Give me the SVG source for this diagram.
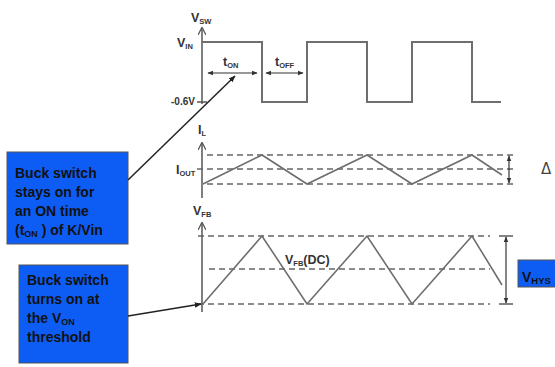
<svg xmlns="http://www.w3.org/2000/svg" width="555" height="367" viewBox="0 0 555 367">
<defs>
<marker id="ah" viewBox="0 0 10 10" refX="9" refY="5" markerWidth="7" markerHeight="7" orient="auto-start-reverse" markerUnits="userSpaceOnUse"><path d="M0,1 L10,5 L0,9 z" fill="#222"/></marker>
<marker id="ax" viewBox="0 0 10 10" refX="9" refY="5" markerWidth="8" markerHeight="8" orient="auto" markerUnits="userSpaceOnUse"><path d="M0,0 L10,5 L0,10" fill="none" stroke="#555" stroke-width="1.5"/></marker>
<marker id="sa" viewBox="0 0 10 10" refX="9" refY="5" markerWidth="6" markerHeight="6" orient="auto-start-reverse" markerUnits="userSpaceOnUse"><path d="M0,1 L10,5 L0,9 z" fill="#333"/></marker>
</defs>
<style>
.w{fill:none;stroke:#6e6e6e;stroke-width:2}
.ax{fill:none;stroke:#555;stroke-width:1.5}
.d{fill:none;stroke:#666;stroke-width:1.5;stroke-dasharray:6 4}
.t{font-family:"Liberation Sans",Arial,sans-serif;fill:#333;font-weight:bold}
.lab{font-size:12.5px}
.sub{font-size:7.5px}
.box{fill:#0d5df5;stroke:#555;stroke-width:1}
.bt{font-family:"Liberation Sans",Arial,sans-serif;font-weight:bold;font-size:14px;fill:#111}
.con{fill:none;stroke:#222;stroke-width:1.5}
.dim{fill:none;stroke:#333;stroke-width:1.2}
</style>

<g id="vsw-graph">
<line class="ax" x1="202" y1="104" x2="202" y2="28" marker-end="url(#ax)"/>
<line class="ax" x1="197" y1="102" x2="207" y2="102"/>
<polyline class="w" points="202,42 262,42 262,102 307,102 307,42 367,42 367,102 412,102 412,42 472,42 472,102 501,102"/>
<text class="t lab" x="191" y="22">V<tspan class="sub" dy="2">SW</tspan></text>
<text class="t lab" x="177" y="47">V<tspan class="sub" dy="2">IN</tspan></text>
<text class="t" font-size="10" x="171" y="105">-0.6V</text>
<line class="dim" x1="208" y1="73" x2="257" y2="73" marker-start="url(#sa)" marker-end="url(#sa)"/>
<line class="dim" x1="266" y1="73" x2="303" y2="73" marker-start="url(#sa)" marker-end="url(#sa)"/>
<text class="t lab" x="223" y="66">t<tspan class="sub" dy="2">ON</tspan></text>
<text class="t lab" x="275" y="66">t<tspan class="sub" dy="2">OFF</tspan></text>
</g>

<g id="il-graph">
<line class="ax" x1="202" y1="198" x2="202" y2="143" marker-end="url(#ax)"/>
<line class="d" x1="207" y1="155" x2="513" y2="155"/>
<line class="d" x1="197" y1="169" x2="513" y2="169"/>
<line class="d" x1="207" y1="184" x2="513" y2="184"/>
<polyline class="w" style="stroke-width:1.6" points="203,184 262,155 307,184 367,155 412,184 472,155 502,175"/>
<text class="t lab" x="198" y="134">I<tspan class="sub" dy="2">L</tspan></text>
<text class="t lab" x="176" y="174">I<tspan class="sub" dy="2">OUT</tspan></text>
<line class="dim" x1="509" y1="156" x2="509" y2="183" marker-start="url(#sa)" marker-end="url(#sa)"/>
<text x="541" y="174" font-family="DejaVu Sans,sans-serif" font-size="15" fill="#444">Δ</text>
</g>

<g id="vfb-graph">
<line class="ax" x1="202" y1="312" x2="202" y2="223" marker-end="url(#ax)"/>
<line class="d" x1="198" y1="236" x2="490" y2="236"/>
<line class="d" x1="209" y1="269" x2="490" y2="269"/>
<line class="d" x1="198" y1="304" x2="490" y2="304"/>
<polyline class="w" style="stroke-width:1.6" points="203,304 262,236 307,304 367,236 412,304 472,236 502,285"/>
<text class="t lab" x="193" y="215">V<tspan class="sub" dy="2">FB</tspan></text>
<text class="t lab" font-weight="normal" x="285" y="264">V<tspan class="sub" dy="2">FB</tspan><tspan dy="-2">(DC)</tspan></text>
<line class="dim" x1="506" y1="237" x2="506" y2="303" marker-start="url(#sa)" marker-end="url(#sa)"/>
<line class="dim" x1="499" y1="236" x2="513" y2="236"/>
<line class="dim" x1="499" y1="304" x2="513" y2="304"/>
</g>

<g id="vhys">
<rect class="box" x="518" y="260" width="40" height="27"/>
<text class="bt" x="522" y="282" font-size="19">V<tspan font-size="9.5" dy="2">HYS</tspan></text>
</g>

<g id="box-on-time">
<rect class="box" x="7" y="152" width="121" height="92"/>
<text class="bt" x="15" y="178">Buck switch</text>
<text class="bt" x="15" y="197">stays on for</text>
<text class="bt" x="15" y="216">an ON time</text>
<text class="bt" x="15" y="235">(t<tspan font-size="9" dy="2">ON</tspan><tspan dy="-2"> ) of K/Vin</tspan></text>
</g>

<g id="box-von">
<rect class="box" x="19" y="265" width="109" height="98"/>
<text class="bt" x="27" y="285">Buck switch</text>
<text class="bt" x="27" y="304">turns on at</text>
<text class="bt" x="27" y="323">the V<tspan font-size="9" dy="2">ON</tspan></text>
<text class="bt" x="27" y="342">threshold</text>
</g>

<g id="connectors">
<line class="con" x1="128" y1="180" x2="235" y2="76" marker-end="url(#ah)"/>
<line class="con" x1="128" y1="316" x2="201" y2="304" marker-end="url(#ah)"/>
</g>
</svg>
